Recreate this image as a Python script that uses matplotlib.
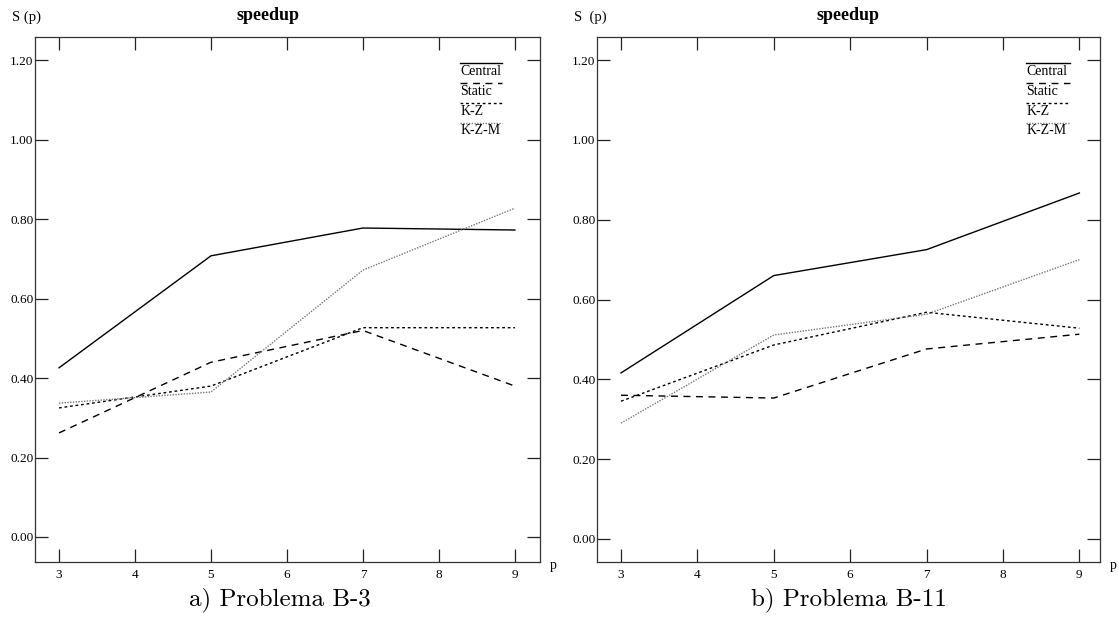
import matplotlib
matplotlib.use("Agg")
import matplotlib.pyplot as plt
from matplotlib.lines import Line2D

# ---- data ----
p = [3, 5, 7, 9]
series_names = ["Central", "Static", "K-Z", "K-Z-M"]

b3_central = [0.426, 0.708, 0.778, 0.773]
b3_static = [0.262, 0.440, 0.520, 0.380]
b3_kz = [0.325, 0.380, 0.527, 0.527]
b3_kzm = [0.337, 0.365, 0.672, 0.828]

b11_central = [0.416, 0.660, 0.725, 0.867]
b11_static = [0.360, 0.353, 0.476, 0.513]
b11_kz = [0.345, 0.486, 0.568, 0.528]
b11_kzm = [0.290, 0.511, 0.563, 0.700]

x_ticks = [3, 4, 5, 6, 7, 8, 9]
y_ticks = [0.0, 0.2, 0.4, 0.6, 0.8, 1.0, 1.2]
captions = ["a) Problema B-3", "b) Problema B-11"]

styles = [
    dict(color="black", lw=1.0, ls="-"),
    dict(color="black", lw=1.0, ls=(0, (5, 4))),
    dict(color="black", lw=1.0, ls=(0, (2, 2))),
    dict(color="#777777", lw=1.0, ls=(0, (1, 1))),
]

W, H = 1119, 625
fig = plt.figure(figsize=(W / 100, H / 100), dpi=100)
serif = "Liberation Serif"

panels = [
    dict(box=(35, 540, 37, 562), data=[b3_central, b3_static, b3_kz, b3_kzm],
         xlim=(2.684, 9.33), ylim=(-0.063, 1.259), cap_x=280),
    dict(box=(597, 1100, 37, 562), data=[b11_central, b11_static, b11_kz, b11_kzm],
         xlim=(2.686, 9.27), ylim=(-0.058, 1.258), cap_x=849),
]

for i, pan in enumerate(panels):
    l, r, t, b = pan["box"]
    ax = fig.add_axes([l / W, 1 - b / H, (r - l) / W, (b - t) / H])
    for vals, st in zip(pan["data"], styles):
        ax.plot(p, vals, **st)
    ax.set_xlim(*pan["xlim"])
    ax.set_ylim(*pan["ylim"])
    ax.set_xticks(x_ticks)
    ax.set_xticklabels([str(v) for v in x_ticks], fontfamily=serif, fontsize=9.5)
    ax.set_yticks(y_ticks)
    ax.set_yticklabels([f"{v:.2f}" for v in y_ticks], fontfamily=serif, fontsize=9.5)
    ax.tick_params(axis="both", direction="in", length=9.5, width=0.9,
                   top=True, right=True, color="#222222")
    ax.tick_params(axis="x", pad=5)
    ax.tick_params(axis="y", pad=1)
    for s in ax.spines.values():
        s.set_linewidth(0.9)
        s.set_color("#333333")

    # legend (text with line sample above)
    lx0 = 0.842 if i == 0 else 0.853
    lx1 = 0.924 if i == 0 else 0.940
    for k, (name, st) in enumerate(zip(series_names, styles)):
        yy = 0.935 - k * 0.038
        ax.text(lx0, yy, name, transform=ax.transAxes, fontfamily=serif,
                fontsize=10, va="center", ha="left")
        ax.add_line(Line2D([lx0, lx1], [yy + 0.016, yy + 0.016],
                           transform=ax.transAxes, **st))

    fig.text((l + 233) / W if i == 0 else (l + 251) / W, 1 - 15 / H, "speedup",
             fontfamily=serif, fontweight="bold", fontsize=13, ha="center", va="center")
    fig.text((l - 23) / W, 1 - 17 / H, "S (p)" if i == 0 else "S  (p)",
             fontfamily=serif, fontsize=10.5, ha="left", va="center")
    fig.text((r + 13) / W, 1 - 565 / H, "p", fontfamily=serif, fontsize=10,
             ha="center", va="center")
    fig.text(pan["cap_x"] / W, 1 - 600 / H, captions[i], fontfamily="cmr10",
             fontsize=18, ha="center", va="center")

fig.savefig("out.png", dpi=100)
